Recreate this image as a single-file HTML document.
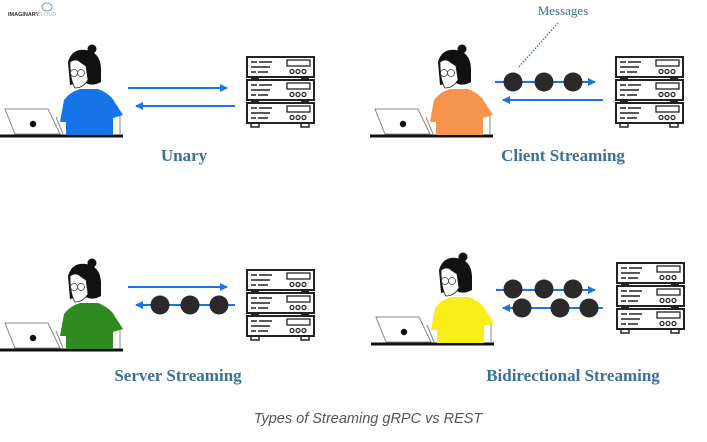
<!DOCTYPE html>
<html><head><meta charset="utf-8"><style>
html,body{margin:0;padding:0;background:#fff;width:707px;height:442px;overflow:hidden}
svg{display:block}
.t{font-family:"Liberation Serif",serif;font-weight:bold;fill:#3b6f9c;font-size:17px;text-anchor:middle}
</style></head><body>
<svg width="707" height="442" viewBox="0 0 707 442" xmlns="http://www.w3.org/2000/svg">
<defs>
<g id="person">
  <line x1="0" y1="136" x2="123" y2="136" stroke="#111" stroke-width="3"/>
  <polygon points="5,109 48,109 60,134 15,134" fill="#fff" stroke="#888" stroke-width="1"/>
  <circle cx="33" cy="124" r="3.2" fill="#111"/>
  <line x1="56" y1="117" x2="63" y2="134" stroke="#888" stroke-width="1"/>
  <line x1="120" y1="115" x2="120" y2="134" stroke="#888" stroke-width="1"/>
</g>
<g id="head">
  <path d="M70,85 L68,62 Q72,48 86,50 Q100,52 101,68 L101,82 Q94,86 88,84 L84,82 Z" fill="#111"/>
  <circle cx="92" cy="49" r="4.5" fill="#111"/>
  <path d="M70,62 Q76,58 80,62 L86,66 L88,80 Q83,88 75,88 Q70,80 70,62 Z" fill="#fff" stroke="#222" stroke-width="0.8"/>
  <circle cx="74" cy="73" r="3.5" fill="none" stroke="#444" stroke-width="0.8"/>
  <circle cx="81" cy="73" r="3.5" fill="none" stroke="#444" stroke-width="0.8"/>
</g>
<g id="server">
  <g id="unit">
    <rect x="247" y="57" width="67" height="20" fill="#fff" stroke="#222" stroke-width="2"/>
    <line x1="251" y1="62" x2="257" y2="62" stroke="#222" stroke-width="1.5"/>
    <line x1="259" y1="62" x2="272" y2="62" stroke="#222" stroke-width="1.5"/>
    <line x1="251" y1="67" x2="270" y2="67" stroke="#222" stroke-width="1.5"/>
    <line x1="251" y1="72" x2="256" y2="72" stroke="#222" stroke-width="1.5"/>
    <line x1="258" y1="72" x2="268" y2="72" stroke="#222" stroke-width="1.5"/>
    <rect x="287" y="60" width="23" height="6" fill="none" stroke="#222" stroke-width="1.3"/>
    <circle cx="292" cy="71.5" r="2" fill="none" stroke="#222" stroke-width="1.2"/>
    <circle cx="298" cy="71.5" r="2" fill="none" stroke="#222" stroke-width="1.2"/>
    <circle cx="304" cy="71.5" r="2" fill="none" stroke="#222" stroke-width="1.2"/>
  </g>
  <use href="#unit" y="23"/><use href="#unit" y="46"/>
  <rect x="251" y="77" width="8" height="3" fill="#222"/><rect x="301" y="77" width="8" height="3" fill="#222"/>
  <rect x="251" y="100" width="8" height="3" fill="#222"/><rect x="301" y="100" width="8" height="3" fill="#222"/>
  <rect x="251" y="123" width="8" height="4" fill="none" stroke="#222" stroke-width="1.5"/><rect x="301" y="123" width="8" height="4" fill="none" stroke="#222" stroke-width="1.5"/>
</g>
<marker id="ar" markerWidth="8" markerHeight="8" refX="7" refY="4" orient="auto" markerUnits="userSpaceOnUse"><path d="M0,0 L8,4 L0,8 Z" fill="#1a73e8"/></marker>
</defs>

<!-- logo -->
<text x="8" y="16" font-family="Liberation Sans,sans-serif" font-size="5.5" font-weight="bold" fill="#333">IMAGINARY</text>
<text x="37" y="16" font-family="Liberation Sans,sans-serif" font-size="5.5" fill="#9bb">CLOUD</text>
<ellipse cx="47" cy="7" rx="5" ry="4" fill="none" stroke="#6b9bc9" stroke-width="1"/>

<!-- Panel 1 -->
<g>
  <use href="#person"/>
  <path d="M60,122 L64,100 Q70,92 80,89 L98,89 Q106,92 112,98 L123,115 L113,118 L113,135 L66,135 L66,122 Z" fill="#1673ea"/>
  <use href="#head"/>
  <use href="#server"/>
  <line x1="128" y1="88" x2="227" y2="88" stroke="#1a73e8" stroke-width="2" marker-end="url(#ar)"/>
  <line x1="235" y1="106" x2="136" y2="106" stroke="#1a73e8" stroke-width="2" marker-end="url(#ar)"/>
  <text class="t" x="184" y="161">Unary</text>
</g>

<!-- Panel 2 -->
<g transform="translate(370,0)">
  <use href="#person"/>
  <path d="M60,122 L64,100 Q70,92 80,89 L98,89 Q106,92 112,98 L123,115 L113,118 L113,135 L66,135 L66,122 Z" fill="#f7944c"/>
  <use href="#head"/>
</g>
<use href="#server" x="369"/>
<line x1="495" y1="82" x2="595" y2="82" stroke="#1a73e8" stroke-width="2" marker-end="url(#ar)"/>
<line x1="603" y1="100" x2="503" y2="100" stroke="#1a73e8" stroke-width="2" marker-end="url(#ar)"/>
<circle cx="513" cy="82" r="9.5" fill="#2a2a2a"/><circle cx="544" cy="82" r="9.5" fill="#2a2a2a"/><circle cx="573" cy="82" r="9.5" fill="#2a2a2a"/>
<line x1="558" y1="23" x2="518" y2="68" stroke="#2f6fa8" stroke-width="1.3" stroke-dasharray="1.5,1.5"/>
<text x="563" y="15" font-family="Liberation Serif,serif" font-size="13" fill="#3b6f9c" text-anchor="middle">Messages</text>
<text class="t" x="563" y="161">Client Streaming</text>

<!-- Panel 3 -->
<g transform="translate(0,214)">
  <use href="#person"/>
  <path d="M60,122 L64,100 Q70,92 80,89 L98,89 Q106,92 112,98 L123,115 L113,118 L113,135 L66,135 L66,122 Z" fill="#2f8a1f"/>
  <use href="#head"/>
</g>
<use href="#server" y="213"/>
<line x1="128" y1="287" x2="227" y2="287" stroke="#1a73e8" stroke-width="2" marker-end="url(#ar)"/>
<line x1="235" y1="305" x2="136" y2="305" stroke="#1a73e8" stroke-width="2" marker-end="url(#ar)"/>
<circle cx="160" cy="305" r="9.5" fill="#2a2a2a"/><circle cx="190" cy="305" r="9.5" fill="#2a2a2a"/><circle cx="219" cy="305" r="9.5" fill="#2a2a2a"/>
<text class="t" x="178" y="381">Server Streaming</text>

<!-- Panel 4 -->
<g transform="translate(371,208)">
  <use href="#person"/>
  <path d="M60,122 L64,100 Q70,92 80,89 L98,89 Q106,92 112,98 L123,115 L113,118 L113,135 L66,135 L66,122 Z" fill="#f8ee1a"/>
  <use href="#head"/>
</g>
<use href="#server" x="370" y="206"/>
<line x1="496" y1="290" x2="595" y2="290" stroke="#1a73e8" stroke-width="2" marker-end="url(#ar)"/>
<line x1="603" y1="308" x2="503" y2="308" stroke="#1a73e8" stroke-width="2" marker-end="url(#ar)"/>
<circle cx="513" cy="289" r="9.5" fill="#2a2a2a"/><circle cx="544" cy="289" r="9.5" fill="#2a2a2a"/><circle cx="573" cy="289" r="9.5" fill="#2a2a2a"/>
<circle cx="522" cy="308" r="9.5" fill="#2a2a2a"/><circle cx="560" cy="308" r="9.5" fill="#2a2a2a"/><circle cx="589" cy="308" r="9.5" fill="#2a2a2a"/>
<text class="t" x="573" y="381">Bidirectional Streaming</text>

<text x="368" y="423" font-family="Liberation Sans,sans-serif" font-style="italic" font-size="14.5" fill="#555" text-anchor="middle">Types of Streaming gRPC vs REST</text>
</svg>
</body></html>
